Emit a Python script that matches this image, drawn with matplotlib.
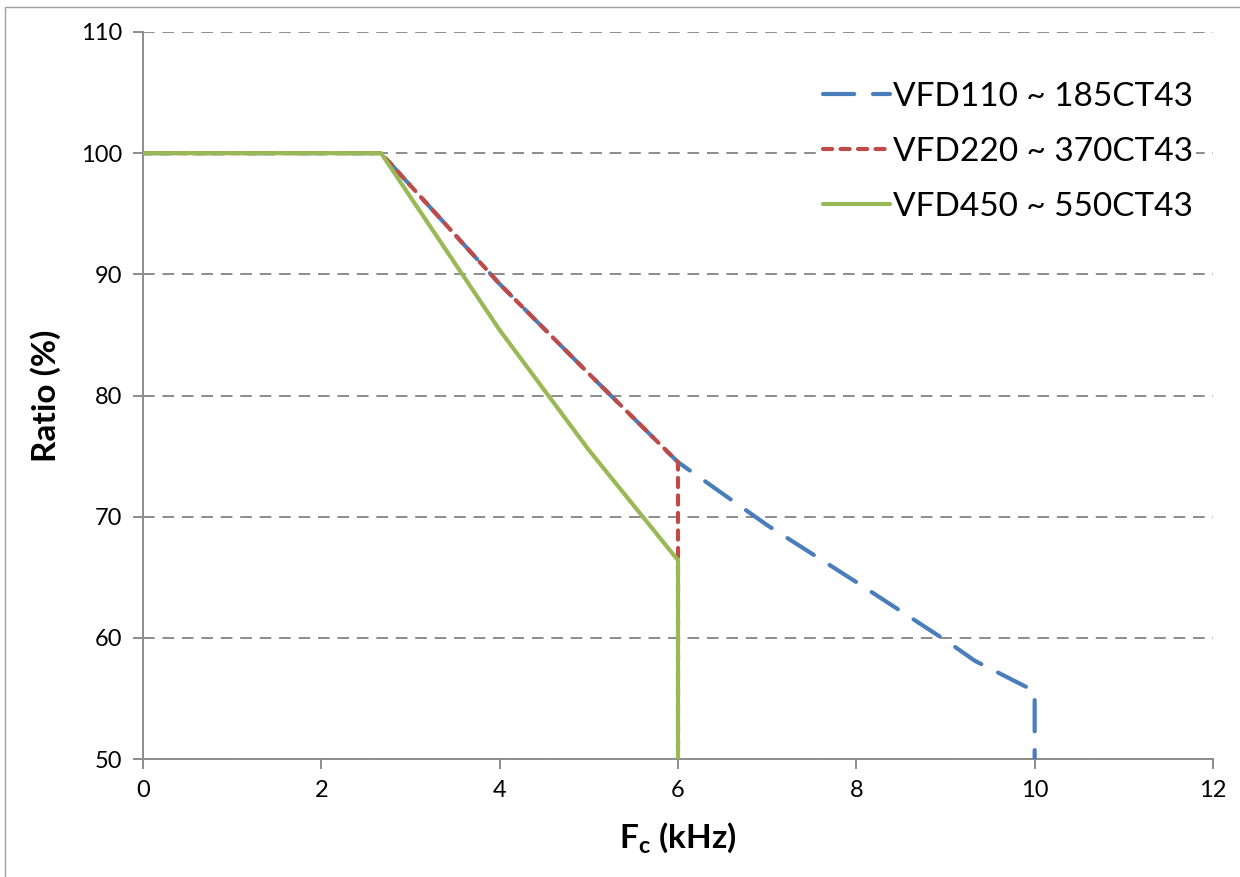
import matplotlib
matplotlib.use("Agg")
import matplotlib.pyplot as plt
from matplotlib.patches import Rectangle

plt.rcParams["font.family"] = ["Lato", "DejaVu Sans"]

# data
fc_blue = [0, 2.67, 4, 5, 6, 7, 8, 9, 9.33, 10, 10]
ratio_blue = [100, 100, 89.2, 81.8, 74.5, 69.3, 64.6, 59.8, 58.1, 55.6, 50]
fc_red = [0, 2.67, 4, 5, 6, 6]
ratio_red = [100, 100, 89.2, 81.8, 74.5, 50]
fc_green = [0, 2.67, 4, 5, 6, 6]
ratio_green = [100, 100, 85.4, 75.5, 66.4, 50]
labels = ["VFD110 ~ 185CT43", "VFD220 ~ 370CT43", "VFD450 ~ 550CT43"]

fig = plt.figure(figsize=(12.4, 8.77), dpi=100)
ax = fig.add_axes([143/1240, 1-759/877, 1070/1240, 727/877])

grey = "#8c8c8c"
l1, = ax.plot(fc_blue, ratio_blue, color="#4a7ebb", lw=3, dashes=(7.5, 4.5),
              dash_capstyle="round", label=labels[0], zorder=3)
l2, = ax.plot(fc_red, ratio_red, color="#be4b48", lw=3, dashes=(2.2, 2.0),
              dash_capstyle="round", label=labels[1], zorder=4)
l3, = ax.plot(fc_green, ratio_green, color="#98b954", lw=3,
              solid_capstyle="round", label=labels[2], zorder=5)

ax.set_xlim(0, 12)
ax.set_ylim(50, 110)
ax.set_xticks(range(0, 13, 2))
ax.set_yticks(range(50, 111, 10))
ax.yaxis.grid(True, color=grey, lw=1.4, dashes=(6, 4))
ax.set_axisbelow(True)

for s in ["top", "right"]:
    ax.spines[s].set_visible(False)
for s in ["left", "bottom"]:
    ax.spines[s].set_color(grey)
    ax.spines[s].set_linewidth(1.4)
ax.tick_params(colors=grey, labelcolor="black", labelsize=17, length=7,
               width=1.4, direction="out", pad=8)

ax.set_xlabel("F$_\\mathregular{c}$ (kHz)", fontsize=24, fontweight="bold", labelpad=14)
ax.set_ylabel("Ratio (%)", fontsize=24, fontweight="bold", labelpad=14)

leg = ax.legend(handles=[l1, l2, l3], loc="upper right", frameon=True, fontsize=24,
                handlelength=2.0, handletextpad=0.1, labelspacing=0.75,
                borderpad=0.1, fancybox=False, framealpha=1,
                bbox_to_anchor=(1.0, 0.959))
leg.get_frame().set_facecolor("white")
leg.get_frame().set_edgecolor("none")

fig.add_artist(Rectangle((5/1240, -0.1), 1.2, 1.1 - 7/877, transform=fig.transFigure,
                         fill=False, edgecolor="#a0a0a0", lw=1))

fig.savefig("out.png", dpi=100)
